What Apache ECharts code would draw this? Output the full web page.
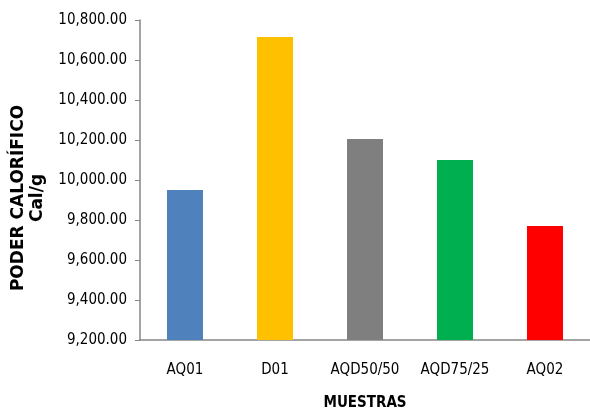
<!DOCTYPE html>
<html><head><meta charset="utf-8">
<script src="https://cdn.jsdelivr.net/npm/echarts@6/dist/echarts.min.js"></script>
<style>html,body{margin:0;padding:0;background:#fff}#c{width:590px;height:409px}</style>
</head><body><div id="c"></div>
<script>
const categories = ["AQ01", "D01", "AQD50/50", "AQD75/25", "AQ02"];
const values = [9950, 10715, 10205, 10100, 9770];
const barColors = ["#4f81bd", "#ffc000", "#7f7f7f", "#00b050", "#ff0000"];
const yTitle = "PODER CALORÍFICO\nCal/g";
const xTitle = "MUESTRAS";
const narrow = "'Liberation Sans Narrow','DejaVu Sans Condensed',sans-serif";
const chart = echarts.init(document.getElementById('c'));
chart.setOption({
  animation: false,
  grid: {left: 140, right: 0, top: 20, bottom: 69, containLabel: false, outerBoundsMode: 'none'},
  graphic: [{
    type: 'text', x: 28, y: 198, rotation: Math.PI / 2,
    style: {text: yTitle, align: 'center', verticalAlign: 'middle',
      font: "bold 17px 'DejaVu Sans', sans-serif", fill: '#000', lineHeight: 19}
  }],
  xAxis: {
    type: 'category', data: categories,
    name: xTitle, nameLocation: 'middle', nameGap: 56,
    nameTextStyle: {fontFamily: narrow, fontWeight: 'bold', fontSize: 15, color: '#000'},
    axisLine: {lineStyle: {color: '#868686', width: 1.5}},
    axisTick: {length: 6, lineStyle: {color: '#868686'}},
    axisLabel: {fontFamily: narrow, fontSize: 15, color: '#000', margin: 23, interval: 0, hideOverlap: false}
  },
  yAxis: {
    type: 'value', min: 9200, max: 10800, interval: 200,
    axisLine: {show: true, lineStyle: {color: '#868686', width: 1.5}},
    axisTick: {show: true, length: 5, lineStyle: {color: '#868686'}},
    splitLine: {show: false},
    axisLabel: {fontFamily: narrow, fontSize: 15, color: '#000', margin: 13,
      formatter: v => v.toLocaleString('en-US', {minimumFractionDigits: 2, maximumFractionDigits: 2})}
  },
  series: [{
    type: 'bar', barWidth: '40%',
    data: values.map((v, i) => ({value: v, itemStyle: {color: barColors[i]}}))
  }]
});
</script></body></html>
